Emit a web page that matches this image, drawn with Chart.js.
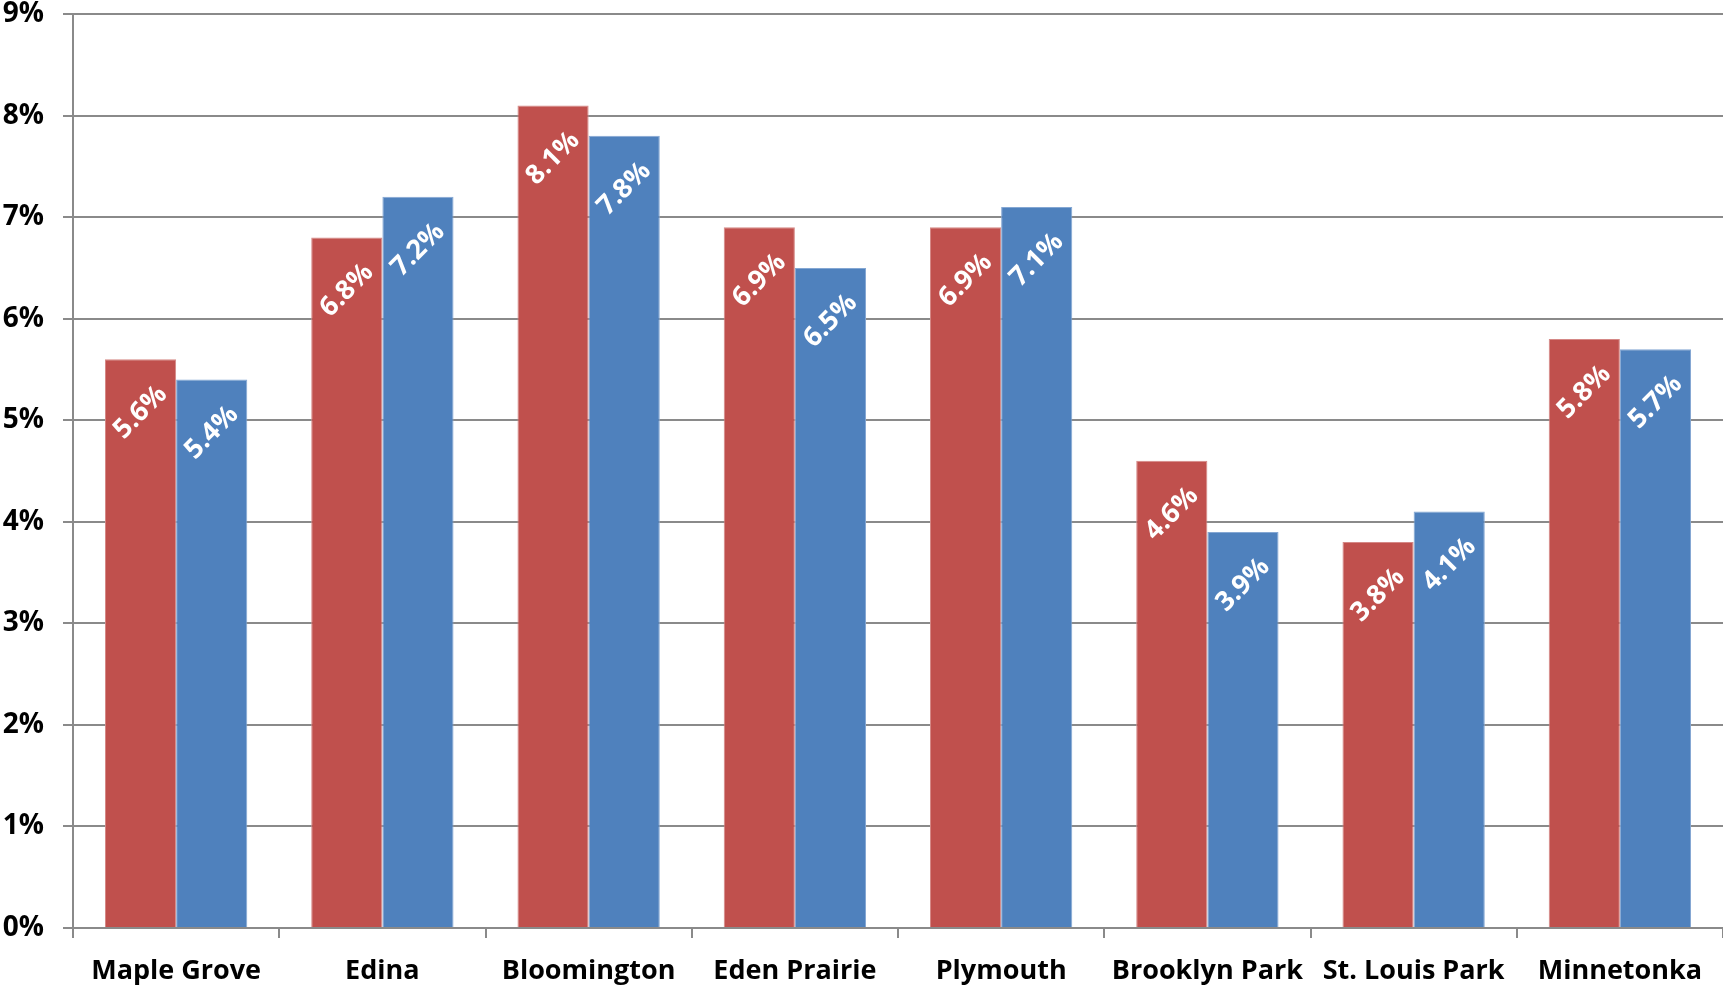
<!DOCTYPE html>
<html>
<head>
<meta charset="utf-8">
<script src="https://cdn.jsdelivr.net/npm/chart.js@4/dist/chart.umd.min.js"></script>
<style>
  html, body { margin: 0; padding: 0; background: #ffffff; }
  canvas { display: block; }
</style>
</head>
<body>
<canvas id="chart" width="1723" height="988"></canvas>
<script>
// Cities along the x axis
const cities = ['Maple Grove', 'Edina', 'Bloomington', 'Eden Prairie', 'Plymouth', 'Brooklyn Park', 'St. Louis Park', 'Minnetonka'];
// Percent values for the two series (red, then blue)
const redValues = [5.6, 6.8, 8.1, 6.9, 6.9, 4.6, 3.8, 5.8];
const blueValues = [5.4, 7.2, 7.8, 6.5, 7.1, 3.9, 4.1, 5.7];
// Y axis range and step, in percent
const yMin = 0;
const yMax = 9;
const yStep = 1;

const FONT = '"Open Sans", Lato, "DejaVu Sans", sans-serif';
const GRID = '#8a8a8a';

// White rotated value labels drawn inside the top of each bar
const barValueLabels = {
  id: 'barValueLabels',
  afterDatasetsDraw(chart) {
    const ctx = chart.ctx;
    ctx.save();
    ctx.font = 'bold 27px ' + FONT;
    ctx.fillStyle = '#ffffff';
    ctx.textAlign = 'center';
    ctx.textBaseline = 'middle';
    chart.data.datasets.forEach((ds, i) => {
      chart.getDatasetMeta(i).data.forEach((bar, j) => {
        ctx.save();
        ctx.translate(bar.x, bar.y + 53);
        ctx.rotate(-45 * Math.PI / 180);
        ctx.fillText(ds.data[j].toFixed(1) + '%', 0, 0);
        ctx.restore();
      });
    });
    ctx.restore();
  }
};

new Chart(document.getElementById('chart'), {
  type: 'bar',
  data: {
    labels: cities,
    datasets: [
      {
        label: 'Series 1',
        data: redValues,
        backgroundColor: '#C0504D',
        borderColor: '#D58886',
        borderWidth: 1
      },
      {
        label: 'Series 2',
        data: blueValues,
        backgroundColor: '#4F81BD',
        borderColor: '#84A7D3',
        borderWidth: 1
      }
    ]
  },
  options: {
    responsive: false,
    animation: false,
    devicePixelRatio: 1,
    layout: { padding: { top: 14, left: 0, right: 0, bottom: 0 } },
    datasets: {
      bar: { barPercentage: 1, categoryPercentage: 0.69 }
    },
    plugins: {
      legend: { display: false },
      tooltip: { enabled: false }
    },
    scales: {
      x: {
        grid: {
          offset: true,
          drawOnChartArea: false,
          tickLength: 10,
          color: GRID,
          lineWidth: 2
        },
        border: { color: GRID, width: 2 },
        ticks: {
          color: '#000000',
          padding: 20,
          maxRotation: 0,
          autoSkip: false,
          font: { family: FONT, size: 27, weight: 'bold', lineHeight: 1 }
        },
        afterFit(scale) {
          scale.height = 60;
          scale.paddingLeft = 0;
          scale.paddingRight = 0;
        }
      },
      y: {
        min: yMin,
        max: yMax,
        grid: {
          color: GRID,
          lineWidth: 2,
          tickLength: 10
        },
        border: { color: GRID, width: 2 },
        ticks: {
          stepSize: yStep,
          color: '#000000',
          padding: 19,
          font: { family: FONT, size: 28, weight: 'bold', lineHeight: 1 },
          callback: (v) => v + '%'
        },
        afterFit(scale) {
          scale.width = 73;
          scale.paddingTop = 0;
          scale.paddingBottom = 0;
        }
      }
    }
  },
  plugins: [barValueLabels]
});
</script>
</body>
</html>
